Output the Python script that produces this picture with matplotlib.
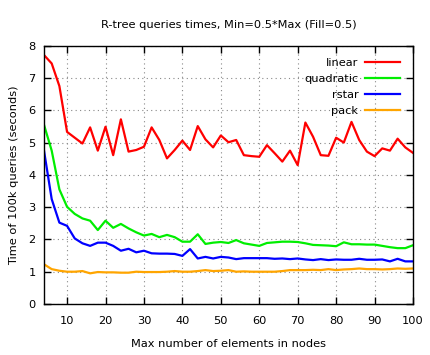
import matplotlib
matplotlib.use("Agg")
import matplotlib.pyplot as plt
import numpy as np

x = list(range(4, 101, 2))

linear = [7.71, 7.45, 6.75, 5.33, 5.15, 4.97, 5.47, 4.75, 5.49, 4.61,
          5.72, 4.72, 4.77, 4.87, 5.47, 5.08, 4.51, 4.77, 5.06, 4.77,
          5.51, 5.10, 4.85, 5.22, 5.01, 5.08, 4.61, 4.58, 4.56, 4.92,
          4.67, 4.41, 4.75, 4.30, 5.62, 5.18, 4.61, 4.59, 5.15, 5.00,
          5.64, 5.08, 4.72, 4.58, 4.82, 4.75, 5.12, 4.85, 4.68]

quadratic = [5.55, 4.75, 3.55, 3.01, 2.79, 2.65, 2.58, 2.29, 2.58, 2.36,
             2.48, 2.34, 2.22, 2.12, 2.17, 2.07, 2.14, 2.07, 1.93, 1.93,
             2.16, 1.86, 1.90, 1.92, 1.89, 1.98, 1.88, 1.84, 1.80, 1.89,
             1.91, 1.93, 1.93, 1.92, 1.88, 1.83, 1.82, 1.81, 1.79, 1.91,
             1.85, 1.85, 1.84, 1.84, 1.80, 1.76, 1.73, 1.73, 1.82]

rstar = [4.75, 3.25, 2.52, 2.42, 2.03, 1.88, 1.80, 1.90, 1.90, 1.80,
         1.65, 1.71, 1.60, 1.65, 1.57, 1.56, 1.56, 1.55, 1.49, 1.70,
         1.41, 1.46, 1.41, 1.46, 1.44, 1.39, 1.42, 1.42, 1.42, 1.42,
         1.40, 1.41, 1.39, 1.41, 1.38, 1.36, 1.39, 1.36, 1.38, 1.37,
         1.37, 1.40, 1.37, 1.37, 1.38, 1.32, 1.40, 1.32, 1.32]

pack = [1.23, 1.08, 1.03, 1.00, 1.00, 1.02, 0.95, 0.99, 0.98, 0.98,
        0.97, 0.97, 1.00, 0.99, 0.99, 0.99, 1.00, 1.02, 1.00, 1.00,
        1.02, 1.05, 1.02, 1.03, 1.05, 1.00, 1.01, 1.00, 1.00, 1.00,
        1.00, 1.02, 1.05, 1.05, 1.05, 1.06, 1.05, 1.08, 1.05, 1.07,
        1.08, 1.10, 1.08, 1.08, 1.07, 1.08, 1.10, 1.09, 1.10]

series = [("linear", linear, "#ff0000"),
          ("quadratic", quadratic, "#00ee00"),
          ("rstar", rstar, "#0000ff"),
          ("pack", pack, "#ffa500")]

xticks = [10, 20, 30, 40, 50, 60, 70, 80, 90, 100]
yticks = [0, 1, 2, 3, 4, 5, 6, 7, 8]

plt.rcParams['font.family'] = ['DejaVu Sans']
fs = 8.2

fig = plt.figure(figsize=(4.3, 3.55), dpi=100)
ax = fig.add_axes([44/430, 1-304/355, (413-44)/430, (304-45.7)/355])

for name, vals, col in series:
    ax.plot(x, vals, color=col, lw=1.6, label=name)

ax.set_xlim(4, 100)
ax.set_ylim(0, 8)
ax.set_xticks(xticks)
ax.set_yticks(yticks)
ax.tick_params(direction='in', length=5, width=1, top=True, right=True,
               labelsize=fs, colors='black')
ax.tick_params(axis='x', pad=9)
ax.tick_params(axis='y', pad=6)
ax.grid(True, color='#888888', linestyle=(0, (1, 3)), linewidth=0.8)
for s in ax.spines.values():
    s.set_linewidth(1)
    s.set_color('black')

ax.set_title("R-tree queries times, Min=0.5*Max (Fill=0.5)", fontsize=fs, pad=13)
ax.set_xlabel("Max number of elements in nodes", fontsize=fs, labelpad=9)
ax.set_ylabel("Time of 100k queries (seconds)", fontsize=fs, labelpad=7)

leg = ax.legend(loc='upper right', markerfirst=False, frameon=False,
                fontsize=fs, handlelength=3.1, labelspacing=0.52,
                borderaxespad=0.7, handletextpad=0.6)
for t in leg.get_texts():
    t.set_ha('right')

fig.savefig("out.png", dpi=100, facecolor='white')
